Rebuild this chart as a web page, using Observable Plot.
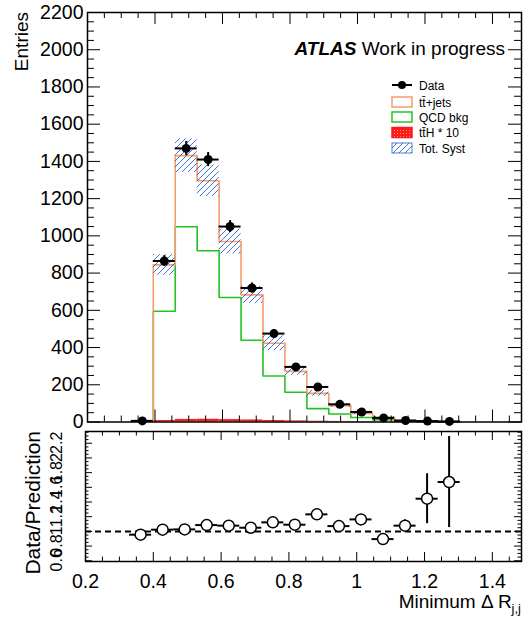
<!DOCTYPE html>
<html>
<head>
<meta charset="utf-8">
<script src="https://cdn.jsdelivr.net/npm/d3@7"></script>
<script src="https://cdn.jsdelivr.net/npm/@observablehq/plot@0.6"></script>
<style>
  html, body { margin: 0; padding: 0; background: white; }
  #chart svg { display: block; }
</style>
</head>
<body>
<svg width="0" height="0" style="position:absolute">
  <defs>
    <pattern id="hatch" patternUnits="userSpaceOnUse" width="6" height="6">
      <path d="M-1,1 l2,-2 M0,6 l6,-6 M5,7 l2,-2" stroke="#1f5fc8" stroke-width="0.85"/>
    </pattern>
    <pattern id="tthPat" patternUnits="userSpaceOnUse" width="3" height="3">
      <rect width="3" height="3" fill="#ff1a1a"/>
      <rect x="1" y="1" width="1" height="1" fill="#ff9a9a"/>
    </pattern>
  </defs>
</svg>
<div id="chart"></div>
<script>
// ---------------- data ----------------
const binEdges = [0.33, 0.395, 0.46, 0.525, 0.59, 0.655, 0.72, 0.785, 0.85, 0.915, 0.98, 1.045, 1.11, 1.175, 1.24, 1.305];
const dataCounts = [6, 865, 1470, 1410, 1050, 720, 475, 296, 188, 95, 54, 22, 8, 5, 3];
const dataErr    = [2.5, 29, 38, 38, 32, 27, 22, 17, 14, 10, 7, 5, 3, 2, 2];
const qcdBkg     = [5, 595, 1049, 920, 669, 439, 247, 160, 72, 43, 24, 12, 4, 2, 1];
const ttbarJets  = [1.3, 249, 382, 376, 301, 244, 176, 112, 82, 45, 22, 13, 3.5, 1.5, 0.8];
const ttH10      = [0, 8, 14, 15, 13, 11, 8, 6, 4, 3, 2, 1, 0.5, 0.3, 0.2];
const totSyst    = [0.5, 55, 90, 85, 67, 46, 40, 22, 15, 10, 6, 3, 1, 0.5, 0.3];
const ratioVals  = [0.955, 1.023, 1.027, 1.086, 1.078, 1.05, 1.123, 1.091, 1.232, 1.072, 1.163, 0.895, 1.078, 1.445, 1.672];
const ratioErr   = [0.03, 0.03, 0.025, 0.025, 0.03, 0.03, 0.035, 0.04, 0.05, 0.05, 0.05, 0.05, 0.08, 0.34, 0.62];

const xMajor = [0.2, 0.4, 0.6, 0.8, 1.0, 1.2, 1.4];
const yMajor = [0, 200, 400, 600, 800, 1000, 1200, 1400, 1600, 1800, 2000, 2200];
const rMajor = [0.6, 0.8, 1, 1.2, 1.4, 1.6, 1.8, 2, 2.2];

// ---------------- styling ----------------
const fontFamily = "'Liberation Sans', Arial, Helvetica, sans-serif";
const orange = "#f99b6b";
const green = "#22c322";
const hatchBlue = "#1f5fc8";
const xDomain = [0.2, 1.486];

const near = (a, b) => Math.abs(a - b) < 1e-6;
const xMinor = d3.range(0.25, 1.486, 0.05).filter(v => !xMajor.some(m => near(m, v)));
const yMinor = d3.range(50, 2200, 50).filter(v => v % 200 !== 0);
const rMinor = d3.range(0.6, 2.36, 0.05).filter(v => !rMajor.some(m => near(m, v)));

const bins = dataCounts.map((d, i) => ({
  x0: binEdges[i], x1: binEdges[i + 1], xc: (binEdges[i] + binEdges[i + 1]) / 2,
  data: d, err: dataErr[i], qcd: qcdBkg[i], total: qcdBkg[i] + ttbarJets[i],
  tth: ttH10[i], syst: totSyst[i], ratio: ratioVals[i], rerr: ratioErr[i]
}));

function stepPts(vals) {
  const n = vals.length;
  const pts = [{x: binEdges[0], y: 0}];
  vals.forEach((v, i) => pts.push({x: binEdges[i], y: v}));
  pts.push({x: binEdges[n], y: vals[n - 1]});
  pts.push({x: binEdges[n], y: 0});
  return pts;
}

function tickMarks(xs, ys, innerW, innerH, xLen, yLen) {
  const st = {stroke: "black", strokeWidth: 1};
  return [
    Plot.ruleX(xs.major, {x: d => d, insetTop: innerH - xLen[0], ...st}),
    Plot.ruleX(xs.minor, {x: d => d, insetTop: innerH - xLen[1], ...st}),
    Plot.ruleX(xs.major, {x: d => d, insetBottom: innerH - xLen[0], ...st}),
    Plot.ruleX(xs.minor, {x: d => d, insetBottom: innerH - xLen[1], ...st}),
    Plot.ruleY(ys.major, {y: d => d, insetRight: innerW - yLen[0], ...st}),
    Plot.ruleY(ys.minor, {y: d => d, insetRight: innerW - yLen[1], ...st}),
    Plot.ruleY(ys.major, {y: d => d, insetLeft: innerW - yLen[0], ...st}),
    Plot.ruleY(ys.minor, {y: d => d, insetLeft: innerW - yLen[1], ...st})
  ];
}

// ---------------- main panel ----------------
const M = {w: 526, h: 426, t: 12, b: 4.5, l: 87, r: 5};
const mainInnerW = M.w - M.l - M.r, mainInnerH = M.h - M.t - M.b;

const main = Plot.plot({
  width: M.w, height: M.h,
  marginTop: M.t, marginBottom: M.b, marginLeft: M.l, marginRight: M.r,
  x: {domain: xDomain, axis: null},
  y: {domain: [0, 2200], axis: null},
  style: {fontFamily, background: "white", color: "black", overflow: "visible"},
  marks: [
    Plot.rect(bins, {x1: "x0", x2: "x1", y1: 0, y2: "tth", fill: "url(#tthPat)"}),
    Plot.line(stepPts(qcdBkg), {x: "x", y: "y", curve: "step-after", stroke: green, strokeWidth: 1.6}),
    Plot.line(stepPts(bins.map(d => d.total)), {x: "x", y: "y", curve: "step-after", stroke: orange, strokeWidth: 1.6}),
    Plot.rect(bins, {x1: "x0", x2: "x1", y1: d => d.total - d.syst, y2: d => d.total + d.syst, fill: "url(#hatch)"}),
    Plot.ruleX(bins, {x: "xc", y1: d => d.data - d.err, y2: d => d.data + d.err, stroke: "black", strokeWidth: 2}),
    Plot.ruleY(bins, {y: "data", x1: "x0", x2: "x1", stroke: "black", strokeWidth: 2}),
    Plot.dot(bins, {x: "xc", y: "data", r: 4.5, fill: "black", stroke: "none"}),
    ...tickMarks({major: xMajor, minor: xMinor}, {major: yMajor, minor: yMinor}, mainInnerW, mainInnerH, [12, 6], [13, 7]),
    Plot.axisY({ticks: yMajor, tickSize: 0, tickPadding: 4, fontSize: 19.5, tickFormat: d => String(d), label: null}),
    Plot.frame({stroke: "black", strokeWidth: 1.5})
  ]
});

// ---------------- ratio panel ----------------
const R = {w: 526, h: 193, t: 5, b: 58, l: 85, r: 5};
const ratioInnerW = R.w - R.l - R.r, ratioInnerH = R.h - R.t - R.b;

const ratio = Plot.plot({
  width: R.w, height: R.h,
  marginTop: R.t, marginBottom: R.b, marginLeft: R.l, marginRight: R.r,
  x: {domain: xDomain, axis: null},
  y: {domain: [0.59, 2.36], axis: null},
  style: {fontFamily, background: "white", color: "black", overflow: "visible"},
  marks: [
    Plot.ruleY([1], {stroke: "black", strokeWidth: 2, strokeDasharray: "6,4"}),
    Plot.ruleX(bins, {x: "xc", y1: d => d.ratio - d.rerr, y2: d => d.ratio + d.rerr, stroke: "black", strokeWidth: 2}),
    Plot.ruleY(bins, {y: "ratio", x1: "x0", x2: "x1", stroke: "black", strokeWidth: 2}),
    Plot.dot(bins, {x: "xc", y: "ratio", r: 5.5, fill: "white", stroke: "black", strokeWidth: 1.5}),
    ...tickMarks({major: xMajor, minor: xMinor}, {major: rMajor, minor: rMinor}, ratioInnerW, ratioInnerH, [9, 4.5], [7, 3.5]),
    Plot.axisX({ticks: xMajor, tickSize: 0, tickPadding: 13, fontSize: 19.5, tickFormat: d => String(d), label: null}),
    Plot.frame({stroke: "black", strokeWidth: 1.5})
  ]
});

const chart = document.getElementById("chart");
chart.appendChild(main);
chart.appendChild(ratio);

// ---------------- annotations: titles, ATLAS label, legend ----------------
const ms = d3.select(main);
ms.append("text")
  .attr("transform", "translate(28,12) rotate(-90)")
  .attr("text-anchor", "end").attr("font-size", 19).attr("font-family", fontFamily)
  .text("Entries");

const atlas = ms.append("text")
  .attr("x", 505).attr("y", 55).attr("text-anchor", "end")
  .attr("font-size", 19).attr("font-family", fontFamily);
atlas.append("tspan").attr("font-weight", "bold").attr("font-style", "italic").text("ATLAS");
atlas.append("tspan").text(" Work in progress");

const legendItems = [
  {label: "Data", kind: "data"},
  {label: "tt\u0304+jets", kind: "box", stroke: orange, fill: "white"},
  {label: "QCD bkg", kind: "box", stroke: green, fill: "white"},
  {label: "tt\u0304H * 10", kind: "box", stroke: "#ff1a1a", fill: "url(#tthPat)"},
  {label: "Tot. Syst", kind: "box", stroke: hatchBlue, fill: "url(#hatch)", sw: 0.8}
];
const legendY = [85, 102, 117, 132.5, 148];
const lg = ms.append("g").attr("font-family", fontFamily).attr("font-size", 12).attr("text-anchor", "start");
legendItems.forEach((it, i) => {
  const y = legendY[i];
  if (it.kind === "data") {
    lg.append("line").attr("x1", 392).attr("x2", 412).attr("y1", y).attr("y2", y).attr("stroke", "black").attr("stroke-width", 2);
    lg.append("circle").attr("cx", 402).attr("cy", y).attr("r", 4).attr("fill", "black");
  } else {
    lg.append("rect").attr("x", 392).attr("y", y - 5).attr("width", 20).attr("height", 10)
      .attr("fill", it.fill).attr("stroke", it.stroke).attr("stroke-width", it.sw || 1.5);
  }
  lg.append("text").attr("x", 419).attr("y", y + 4.5).attr("text-anchor", "start").text(it.label);
});

const rs = d3.select(ratio);
// rotated ratio tick labels placed through the plot's own y scale
const ry = ratio.scale("y");
const rl = rs.append("g").attr("font-family", fontFamily).attr("font-size", 16).attr("text-anchor", "middle");
rMajor.forEach(v => {
  rl.append("text")
    .attr("transform", `translate(62,${ry.apply(v)}) rotate(-90)`)
    .text(String(v));
});
rs.append("text")
  .attr("transform", "translate(40,5) rotate(-90)")
  .attr("text-anchor", "end").attr("font-size", 21).attr("font-family", fontFamily)
  .text("Data/Prediction");
const xt = rs.append("text")
  .attr("x", 521).attr("y", 181.5).attr("text-anchor", "end")
  .attr("font-size", 19).attr("font-family", fontFamily);
xt.append("tspan").text("Minimum \u0394 R");
xt.append("tspan").attr("font-size", 13).attr("dy", 5).text("j,j");
</script>
</body>
</html>
